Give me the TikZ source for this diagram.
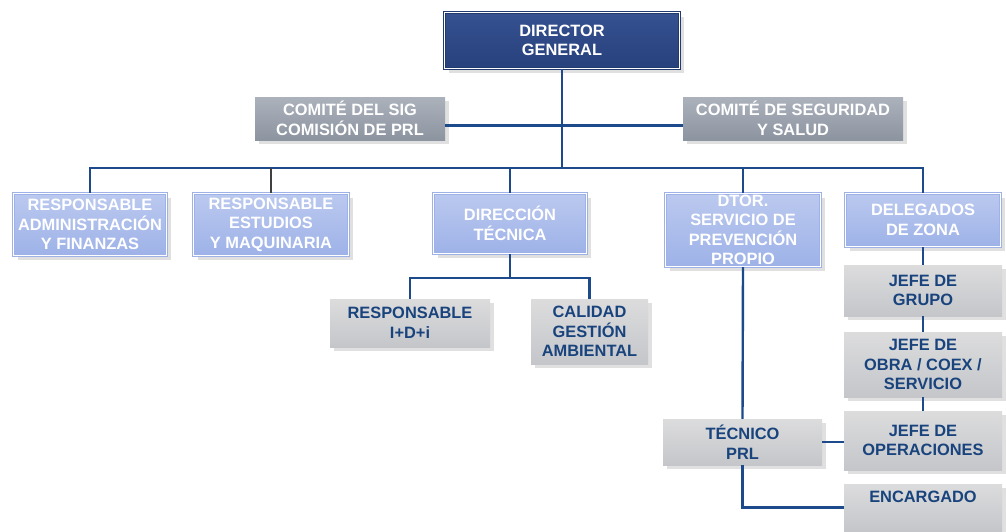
\documentclass[tikz,border=0pt]{standalone}
\usepackage{fontspec}
\setmainfont{Liberation Sans}
\usetikzlibrary{positioning, shadows, calc}
\definecolor{linkblue}{RGB}{28,74,138}
\definecolor{dirblue}{RGB}{43,72,138}
\definecolor{boxblue}{RGB}{158,178,232}
\definecolor{comtop}{RGB}{172,178,188}
\definecolor{combot}{RGB}{140,148,160}
\definecolor{graytop}{RGB}{220,220,221}
\definecolor{graybot}{RGB}{196,198,202}

\tikzset{
  chart/.style={align=center, inner sep=1pt,
    font=\bfseries\fontsize{16.4}{19.5}\selectfont,
    drop shadow={shadow xshift=4pt, shadow yshift=-4pt, fill=black!12, opacity=1}},
  director/.style={chart, draw=dirblue!80!black, double=white, double distance=0.8pt,
    line width=1.3pt, top color=dirblue!95!white, bottom color=dirblue!90!black, text=white},
  area/.style={chart, draw=boxblue, double=white, double distance=0.8pt,
    line width=1.3pt, top color=boxblue!70!white, bottom color=boxblue, text=white},
  comite/.style={chart, top color=comtop, bottom color=combot, text=white},
  puesto/.style={chart, top color=graytop, bottom color=graybot, text=linkblue!90!black},
  link/.style={draw=linkblue, line width=2.4pt},
  greylink/.style={draw=black!75, line width=2.4pt},
}

\begin{document}
\begin{tikzpicture}[x=1pt, y=-1pt]
  \useasboundingbox (0,0) rectangle (1006,531);

  % top of the chart
  \node[director, minimum width=235pt, minimum height=56pt] (dir) at (562,40.5) {DIRECTOR\\GENERAL};
  \node[comite, minimum width=190pt, minimum height=43pt] (sig) at (350,118.5) {COMITÉ DEL SIG\\COMISIÓN DE PRL};
  \node[comite, minimum width=220pt, minimum height=43pt] (seg) at (793,118.5) {COMITÉ DE SEGURIDAD\\Y SALUD};

  % first level
  \node[area, minimum width=153pt, minimum height=62pt] (admin) at (90,224.5) {RESPONSABLE\\ADMINISTRACIÓN\\Y FINANZAS};
  \node[area, minimum width=155pt, minimum height=62pt] (estud) at (271,224.5) {RESPONSABLE\\ESTUDIOS\\Y MAQUINARIA};
  \node[area, minimum width=153pt, minimum height=60pt] (dtec) at (510,223.5) {DIRECCIÓN\\TÉCNICA};
  \node[area, minimum width=155pt, minimum height=73pt] (dtor) at (743,230) {DTOR.\\SERVICIO DE\\PREVENCIÓN\\PROPIO};
  \node[area, minimum width=155pt, minimum height=53pt] (deleg) at (923,220) {DELEGADOS\\DE ZONA};

  % under the technical direction
  \node[puesto, minimum width=160pt, minimum height=48pt] (idi) at (410,323) {RESPONSABLE\\I+D+i};
  \node[puesto, minimum width=117pt, minimum height=65pt] (calid) at (589.5,331.5) {CALIDAD\\GESTIÓN\\AMBIENTAL};

  % field column
  \node[puesto, minimum width=158pt, minimum height=51pt] (grupo) at (923,290.5) {JEFE DE\\GRUPO};
  \node[puesto, minimum width=158pt, minimum height=65pt] (obra) at (923,364.5) {JEFE DE\\OBRA / COEX /\\SERVICIO};
  \node[puesto, minimum width=158pt, minimum height=59pt] (oper) at (923,440.5) {JEFE DE\\OPERACIONES};
  \node[puesto, minimum width=158pt, minimum height=47pt, text depth=21pt] (encarg) at (923,507.5) {ENCARGADO};
  \node[puesto, minimum width=159pt, minimum height=46pt] (tprl) at (742.5,442) {TÉCNICO\\PRL};

  % connectors
  \coordinate (bus) at (562,168);
  \coordinate (dbus) at (510,278);
  \draw[link] (dir.south) -- (bus);
  \draw[link] ([yshift=-7pt]sig.east) -- ([yshift=-7pt]sig.east -| seg.west);
  \draw[link] (admin.north) |- (bus) -| (deleg.north);
  \draw[greylink] (estud.north) -- (estud.north |- bus);
  \draw[link] (dtec.north) -- (dtec.north |- bus);
  \draw[link] (dtor.north) -- (dtor.north |- bus);
  \draw[link] (dtec.south) -- (dbus);
  \draw[link] (idi.north) |- (dbus) -| (calid.north);
  \draw[link] (deleg.south) -- (grupo.north);
  \draw[link] (grupo.south) -- (obra.north);
  \draw[link] (obra.south) -- (oper.north);
  \draw[link] (dtor.south) -- (tprl.north);
  \draw[link] (tprl.east) -- (tprl.east -| oper.west);
  \draw[link] (tprl.south) |- (encarg.west);
\end{tikzpicture}
\end{document}
